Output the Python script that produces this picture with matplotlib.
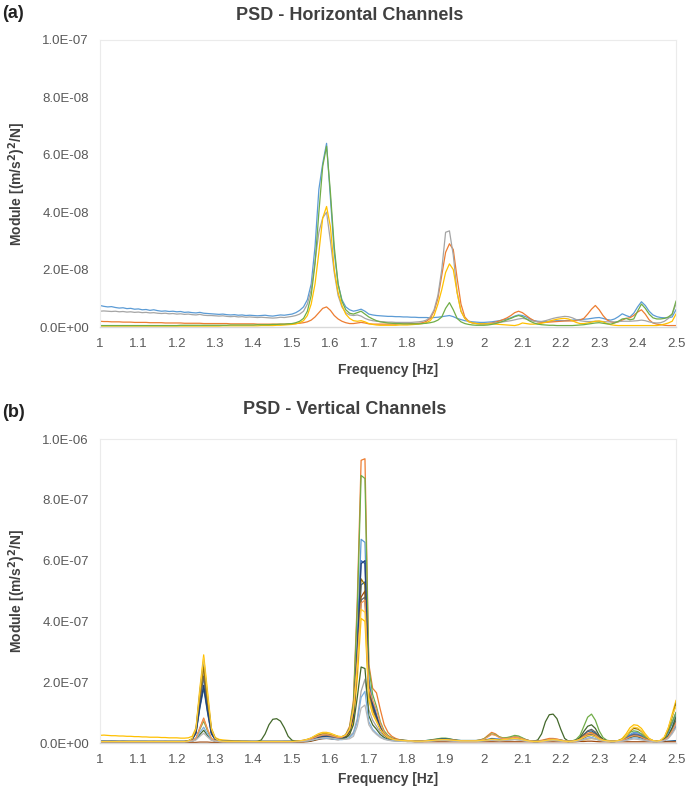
import numpy as np
import matplotlib
matplotlib.use("Agg")
import matplotlib.pyplot as plt
from matplotlib.ticker import FuncFormatter

plt.rcParams['font.family'] = ['Liberation Sans', 'DejaVu Sans']

# Frequency grid of the PSD (Hz), 0.01 Hz bins from 1.00 to 2.50
FREQ = np.round(np.arange(100, 251) / 100.0, 2)

X_TICKS = [1.0, 1.1, 1.2, 1.3, 1.4, 1.5, 1.6, 1.7, 1.8, 1.9, 2.0, 2.1, 2.2, 2.3, 2.4, 2.5]
X_TICK_LABELS = ['1', '1.1', '1.2', '1.3', '1.4', '1.5', '1.6', '1.7', '1.8', '1.9',
                 '2', '2.1', '2.2', '2.3', '2.4', '2.5']

# ---------------- (a) Horizontal channels, values in 1e-10 (m/s2)^2/N ----------------
H_SCALE = 1e-10
H_BLUE = [75,72,70,71,68,66,67,64,65,62,
          63,60,61,58,60,57,55,56,54,55,
          53,54,51,52,50,49,51,48,47,46,
          45,44,45,43,42,43,41,42,40,41,
          40,39,40,41,39,38,40,42,41,43,
          45,50,58,70,95,150,280,480,570,640,
          450,260,150,95,70,60,55,58,62,55,
          45,42,40,39,38,37,37,36,36,35,
          35,34,34,33,33,33,32,33,34,36,
          38,40,36,30,26,22,20,18,17,16,
          16,17,18,20,22,25,28,32,38,42,
          40,35,28,22,20,19,19,20,21,22,
          22,22,23,24,25,26,27,28,30,32,
          33,30,26,24,28,36,46,40,35,48,
          70,88,75,55,42,36,33,32,32,35,
          60]
H_ORANGE = [20,19,19,18,18,18,17,17,17,16,
            16,16,16,15,15,15,15,14,14,14,
            14,14,13,13,13,13,13,12,12,12,
            12,12,12,12,11,11,11,11,11,11,
            11,10,10,10,10,10,10,10,10,11,
            11,12,13,15,18,24,35,50,65,70,
            58,40,28,20,15,12,12,14,16,14,
            11,10,10,10,10,10,10,10,11,11,
            11,12,12,13,15,20,30,55,100,180,
            260,290,270,170,80,35,20,14,12,11,
            11,12,14,17,21,26,32,40,50,55,
            50,40,30,22,18,16,16,17,18,19,
            20,21,21,21,22,24,30,45,62,75,
            60,40,25,18,15,18,24,30,32,40,
            52,60,45,25,14,10,8,6,5,5,
            5]
H_GRAY = [55,56,55,54,55,53,54,52,53,51,
          52,50,51,49,50,48,47,48,46,47,
          45,46,44,45,43,42,44,41,40,40,
          39,38,39,37,36,37,35,36,34,35,
          34,33,34,33,32,31,32,34,33,35,
          37,40,45,55,80,130,230,330,380,400,
          300,190,110,70,50,42,40,42,38,30,
          25,22,20,19,18,17,17,16,16,16,
          16,16,17,18,20,24,35,60,110,200,
          330,335,250,120,55,30,20,15,12,11,
          11,12,13,14,16,18,20,22,25,28,
          30,28,24,20,18,19,22,26,30,33,
          35,37,36,32,26,22,20,19,19,20,
          20,19,18,18,18,19,20,20,20,21,
          22,24,22,18,15,14,15,20,30,45,
          80]
H_YELLOW = [3,3,3,3,3,3,3,3,3,3,
            3,3,3,3,3,3,3,3,3,3,
            3,3,3,3,3,3,3,3,3,3,
            3,3,4,4,4,4,4,4,4,4,
            4,4,5,5,5,5,6,6,7,8,
            9,11,15,22,40,80,150,260,380,420,
            350,200,120,75,45,30,22,20,22,18,
            12,9,7,6,6,6,6,6,7,7,
            7,8,9,10,12,15,22,40,80,130,
            190,220,200,120,55,30,18,14,12,11,
            11,11,11,10,9,8,7,6,5,8,
            14,12,10,10,11,13,16,20,24,27,
            29,30,28,22,16,12,12,14,17,20,
            21,18,12,8,6,5,5,5,5,5,
            5,5,5,5,5,5,7,10,14,20,
            45]
H_GREEN = [5,5,5,5,5,5,5,5,5,5,
           5,5,5,5,5,5,5,5,5,5,
           5,6,6,6,6,6,6,6,6,6,
           6,6,6,6,7,7,7,7,7,7,
           7,8,8,8,8,9,9,10,10,11,
           12,15,20,30,55,110,220,400,560,630,
           470,280,150,90,60,48,45,50,55,45,
           35,28,22,18,16,14,13,12,12,11,
           11,11,11,11,12,13,15,18,24,35,
           65,85,60,30,18,12,9,7,6,6,
           6,7,9,12,16,20,25,30,36,40,
           36,28,20,14,10,8,7,6,6,5,
           5,5,5,5,6,7,8,10,12,14,
           15,13,11,10,14,20,28,30,25,28,
           55,80,65,45,32,28,28,30,35,45,
           90]
H_SERIES = [H_BLUE, H_ORANGE, H_GRAY, H_YELLOW, H_GREEN]
H_COLORS = ['#5B9BD5', '#ED7D31', '#A5A5A5', '#FFC000', '#70AD47']

# ---------------- (b) Vertical channels, values in 1e-9 (m/s2)^2/N ----------------
V_SCALE = 1e-9
V01 = [6,6,5,6,5,5,6,5,5,5, 5,5,5,4,5,4,4,5,4,4, 4,4,4,6,12,35,130,215,120,35,
       12,7,5,5,4,4,4,4,4,4, 4,4,4,4,4,4,4,4,5,5, 5,5,5,6,7,10,15,20,24,25,
       23,20,18,20,26,45,105,340,670,660, 210,140,95,55,35,22,16,12,10,9,
       8,7,7,7,7,8,9,10,11,12, 12,11,10,9,8,8,8,8,8,9, 10,12,15,14,13,14,16,18,20,19,
       15,10,7,6,6,7,9,11,12,11, 9,7,6,6,8,12,20,27,30,25, 16,10,7,6,6,7,10,18,28,35,
       34,28,18,10,7,6,7,12,25,50, 90]
V02 = [3,3,3,3,3,3,3,3,3,3, 3,3,3,3,3,3,3,3,3,3, 3,3,3,4,6,15,50,82,45,14,
       6,4,3,3,3,3,3,3,3,3, 3,3,3,3,3,3,3,3,3,3, 3,4,4,5,6,8,12,16,19,20,
       19,16,14,18,28,55,140,470,930,935, 260,180,165,110,60,35,22,15,11,9,
       8,7,7,6,6,7,8,9,10,11, 11,10,9,8,7,7,7,7,8,10, 14,25,35,30,20,16,15,17,20,19,
       15,10,7,6,7,9,12,15,15,13, 10,7,6,6,8,14,24,32,35,28, 18,10,7,6,6,7,9,14,20,25,
       24,20,14,9,7,6,7,10,20,40, 70]
V03 = [5,5,5,5,5,5,5,5,4,4, 4,4,4,4,4,4,4,4,4,4, 4,4,4,6,13,40,140,230,130,38,
       13,7,5,4,4,4,4,4,4,4, 4,4,4,4,4,4,4,4,4,4, 5,5,6,7,9,13,20,26,30,30,
       28,24,20,18,18,22,35,80,170,210, 110,75,55,35,24,17,13,10,9,8,
       7,7,6,6,6,7,8,9,10,11, 11,10,9,8,7,7,7,7,7,8, 9,11,13,12,11,12,13,15,16,15,
       12,9,7,6,6,7,8,10,11,10, 8,7,6,6,7,10,16,22,25,21, 14,9,7,6,6,7,9,15,24,30,
       29,23,15,9,7,6,7,10,20,35, 60]
V04 = [25,26,25,24,24,23,23,22,22,21, 21,20,20,19,19,19,18,18,17,17, 17,16,16,17,22,50,180,290,170,50,
       18,12,10,9,8,7,7,6,6,5, 4,4,4,4,4,4,4,4,4,4, 5,5,6,8,11,16,24,31,35,35,
       32,27,22,20,22,30,70,210,410,400, 140,95,70,45,28,18,13,10,8,7,
       6,6,5,5,5,5,6,7,8,9, 9,8,7,6,5,5,5,5,5,6, 7,9,12,11,9,9,10,11,12,11,
       9,7,5,4,4,5,6,7,8,7, 6,5,4,4,5,7,10,13,15,13, 10,7,5,4,5,8,15,30,50,60,
       58,48,30,15,8,6,8,20,50,95, 140]
V05 = [6,6,6,6,6,5,5,5,5,5, 5,5,5,5,5,5,5,5,5,5, 5,5,5,7,14,45,165,270,150,45,
       15,8,6,5,5,5,5,5,5,5, 5,5,5,5,5,5,5,5,5,5, 5,5,6,7,9,12,17,21,23,23,
       21,18,16,18,25,45,100,310,600,590, 190,130,90,52,32,20,14,11,9,8,
       7,7,7,7,7,8,9,11,13,14, 14,13,11,9,8,8,8,8,8,8, 9,11,13,12,11,12,14,16,18,17,
       13,9,7,6,6,7,9,11,12,11, 9,7,6,6,8,11,17,23,25,21, 14,9,7,6,6,7,10,17,25,30,
       29,24,16,10,7,6,8,14,35,65, 100]
V06 = [4,4,4,4,4,4,4,4,4,4, 4,4,4,4,4,4,4,4,4,4, 4,4,4,5,7,15,45,72,40,14,
       6,5,4,4,4,4,4,4,4,4, 4,4,4,4,4,4,4,4,4,4, 4,5,5,6,8,11,16,21,24,25,
       23,20,17,19,27,50,130,440,880,870, 250,160,120,70,40,25,17,12,10,9,
       8,7,7,7,7,8,10,12,14,16, 16,14,11,9,8,8,8,8,8,10, 14,22,30,27,20,17,18,21,25,23,
       17,11,7,6,6,7,9,11,12,11, 9,7,6,7,12,25,55,85,95,75, 40,18,9,7,7,8,12,22,35,40,
       38,30,18,10,7,6,8,15,40,70, 100]
V07 = [5,5,5,5,5,5,5,5,5,5, 5,5,5,5,5,5,5,5,5,5, 5,5,5,6,11,32,115,180,100,30,
       11,7,5,5,5,5,5,5,5,5, 5,5,5,5,5,5,5,5,5,5, 5,5,6,7,9,12,16,19,21,21,
       19,17,15,17,23,40,90,270,520,530, 170,115,80,46,28,18,13,10,9,8,
       7,7,6,6,6,7,8,9,10,10, 10,9,8,7,7,7,7,7,7,8, 9,10,12,11,10,11,12,14,15,14,
       11,8,6,5,5,6,8,10,11,10, 8,6,5,6,9,16,28,38,40,32, 18,10,7,5,5,6,8,13,20,25,
       24,19,12,8,6,5,5,5,6,7, 8]
V08 = [2,2,2,2,2,2,2,2,2,2, 2,2,2,2,2,2,2,2,2,2, 2,2,2,2,2,2,3,3,3,2,
       2,2,2,2,2,2,2,2,2,2, 2,2,2,2,2,2,2,2,2,2, 2,2,3,3,4,6,9,12,14,15,
       14,12,11,13,20,38,85,250,480,500, 160,110,80,45,27,17,12,9,7,6,
       5,5,4,4,4,4,4,4,4,4, 4,4,4,4,4,4,4,4,4,4, 4,4,4,4,4,4,4,4,4,4,
       4,4,4,4,4,4,4,4,4,4, 4,4,4,4,4,5,5,6,6,5, 4,4,4,4,4,4,4,4,4,4,
       4,4,4,4,4,4,4,4,4,4, 4]
V09 = [5,5,5,5,5,5,5,5,5,5, 5,5,5,5,5,5,5,5,5,5, 5,5,5,7,13,38,135,220,122,36,
       13,7,5,5,5,5,5,5,5,5, 5,5,5,5,5,5,5,5,5,5, 5,5,6,7,9,12,17,22,25,25,
       23,20,17,19,25,45,100,260,470,480, 160,110,80,46,28,18,13,10,9,8,
       7,7,6,6,6,7,8,9,10,11, 11,10,9,8,7,7,7,7,7,8, 9,10,12,11,10,11,13,15,16,15,
       12,9,7,6,6,7,8,10,11,10, 8,6,5,6,9,15,28,40,45,36, 20,11,7,6,6,7,9,14,22,27,
       26,21,14,9,7,6,7,10,22,45, 75]
V10 = [5,5,5,5,5,5,5,5,5,5, 5,5,5,5,5,5,5,5,5,5, 5,5,5,7,14,42,155,250,140,42,
       14,8,6,5,5,5,5,5,5,5, 5,5,5,5,5,5,5,5,5,5, 5,6,7,9,12,16,22,28,31,31,
       29,25,21,21,26,45,110,290,540,520, 175,120,85,50,30,19,14,11,9,8,
       7,7,6,6,6,7,8,9,10,11, 11,10,9,8,7,7,7,7,7,8, 9,10,12,11,10,11,12,14,15,14,
       11,8,6,5,5,6,8,10,11,10, 8,6,5,6,8,13,22,30,33,27, 16,10,7,6,6,8,12,22,38,48,
       46,38,24,13,8,6,8,18,45,85, 130]
V11 = [5,5,5,5,5,5,5,5,5,5, 5,5,5,5,5,5,5,5,5,5, 5,5,5,6,12,34,120,190,105,32,
       11,7,5,5,5,5,5,5,5,5, 5,5,5,5,5,5,5,5,5,5, 5,5,6,7,8,11,15,18,20,20,
       18,16,14,16,22,40,95,300,590,600, 190,125,88,50,30,19,14,11,9,8,
       7,7,6,6,6,7,8,10,12,13, 13,12,10,8,7,7,7,7,7,8, 9,10,12,11,10,11,12,14,15,14,
       11,8,6,5,5,6,8,10,11,10, 8,6,5,6,8,12,18,25,28,23, 14,9,6,5,5,6,8,12,18,22,
       21,17,11,7,5,5,6,9,18,35, 55]
V12 = [4,4,4,4,4,4,4,4,4,4, 4,4,4,4,4,4,4,4,4,4, 4,4,4,5,6,12,28,42,25,10,
       6,5,4,4,4,4,4,4,4,4, 4,5,10,30,60,78,80,72,50,22, 9,6,5,5,6,8,11,14,16,16,
       15,13,12,13,17,28,60,150,250,245, 90,60,45,28,18,12,9,7,6,6,
       5,5,5,5,5,6,7,8,9,10, 10,9,8,7,6,6,6,6,6,7, 8,10,12,11,10,11,12,14,15,14,
       11,8,6,6,10,30,70,93,95,80, 45,15,6,5,8,18,38,55,60,48, 25,12,7,5,5,6,8,12,18,22,
       21,17,11,7,5,5,7,12,25,50, 85]
V13 = [5,5,5,5,5,5,5,5,5,5, 5,5,5,5,5,5,5,5,5,5, 5,5,5,5,7,14,35,52,30,12,
       7,5,5,5,5,5,5,5,5,5, 5,5,5,5,5,5,5,5,5,5, 5,5,5,6,7,9,12,14,15,15,
       14,12,11,11,13,18,30,70,150,170, 70,45,32,20,14,10,8,7,6,6,
       6,6,5,5,5,6,7,8,9,9, 9,8,7,6,6,6,6,6,6,7, 8,9,10,9,8,9,10,11,12,11,
       9,7,6,5,5,6,7,8,9,8, 7,6,5,5,6,8,12,16,18,15, 10,7,6,5,5,6,7,10,14,17,
       16,13,9,7,5,5,6,9,18,35, 60]
V14 = [4,4,4,4,4,4,4,4,4,4, 4,4,4,4,4,4,4,4,4,4, 4,4,4,5,8,16,48,78,44,15,
       7,5,4,4,4,4,4,4,4,4, 4,4,4,4,4,4,4,4,4,4, 4,5,6,7,9,13,18,23,26,27,
       25,21,18,19,25,45,110,270,460,470, 180,140,110,65,35,22,15,11,9,8,
       7,7,6,6,6,7,8,9,10,11, 11,10,9,8,7,7,7,7,7,9, 12,20,28,25,18,15,15,17,19,18,
       14,10,7,6,6,7,9,12,13,12, 9,7,6,6,8,13,22,30,32,26, 16,10,7,6,6,7,9,14,20,24,
       23,19,13,9,7,6,7,10,20,40, 65]
V15 = [4,4,4,4,4,4,4,4,4,4, 4,4,4,4,4,4,4,4,4,4, 4,4,4,5,6,10,22,32,20,9,
       6,5,4,4,4,4,4,4,4,4, 4,4,4,4,4,4,4,4,4,4, 4,4,5,6,7,9,12,15,17,18,
       17,15,13,12,12,14,22,55,115,125, 60,40,28,18,12,9,7,6,6,5,
       5,5,5,5,5,5,6,7,8,8, 8,7,6,6,5,5,5,5,5,6, 7,8,9,8,7,8,9,10,11,10,
       8,6,5,5,5,5,6,7,8,7, 6,5,5,5,6,8,11,14,15,13, 9,7,5,5,5,5,6,8,11,13,
       12,10,8,6,5,5,5,8,15,30, 50]
V16 = [5,5,5,5,5,5,5,5,5,5, 5,5,5,5,5,5,5,5,5,5, 5,5,5,7,15,47,170,280,160,47,
       15,8,6,5,5,5,5,5,5,5, 5,5,5,5,5,5,5,5,5,5, 5,6,7,9,12,17,24,30,33,33,
       31,26,22,21,26,45,110,250,440,430, 150,100,72,45,28,18,13,10,9,8,
       7,7,6,6,6,7,8,9,10,11, 11,10,9,8,7,7,7,7,7,8, 9,10,12,11,10,11,12,14,15,14,
       11,8,6,5,5,6,8,10,11,10, 8,6,5,6,8,12,18,24,26,21, 13,9,7,6,6,8,12,22,40,52,
       50,40,26,14,8,6,9,20,50,90, 120]
V_SERIES = [V01, V02, V03, V04, V05, V06, V07, V08, V09, V10, V11, V12, V13, V14, V15, V16]
V_COLORS = ['#5B9BD5', '#ED7D31', '#A5A5A5', '#FFC000', '#4472C4', '#70AD47',
            '#255E91', '#9E480E', '#636363', '#997300', '#264478', '#43682B',
            '#7CAFDD', '#F1975A', '#B7B7B7', '#FFCD33']

TICK_COLOR = '#595959'
LABEL_COLOR = '#404040'


def sci(v, pos):
    return f"{v:.1E}"


def style_axes(ax, ymax, xlabelpad):
    ax.set_xlim(1.0, 2.5)
    ax.set_ylim(0, ymax)
    ax.set_xticks(X_TICKS)
    ax.set_xticklabels(X_TICK_LABELS)
    ax.set_yticks(np.linspace(0, ymax, 6))
    ax.yaxis.set_major_formatter(FuncFormatter(sci))
    ax.tick_params(axis='both', length=0, labelsize=9.5, labelcolor=TICK_COLOR)
    ax.tick_params(axis='y', pad=8)
    ax.tick_params(axis='x', pad=8)
    for s in ['top', 'right', 'left']:
        ax.spines[s].set_color('#EBEBEB')
        ax.spines[s].set_linewidth(0.8)
    ax.spines['bottom'].set_color('#D9D9D9')
    ax.spines['bottom'].set_linewidth(1.0)
    ax.set_xlabel('Frequency [Hz]', fontsize=10, fontweight='bold', color=LABEL_COLOR,
                  labelpad=xlabelpad)
    ax.set_ylabel('Module [(m/s$^{\\mathbf{2}}$)$^{\\mathbf{2}}$/N]', fontsize=10,
                  fontweight='bold', color=LABEL_COLOR)


fig = plt.figure(figsize=(6.85, 7.94), dpi=100)
W, H = 685.0, 794.0

ax1 = fig.add_axes([100 / W, 1 - 327 / H, 576 / W, 287 / H])
for vals, c in zip(H_SERIES, H_COLORS):
    ax1.plot(FREQ, np.array(vals) * H_SCALE, color=c, lw=0.9)
style_axes(ax1, 1e-7, 9)
ax1.yaxis.set_label_coords(-0.125, 0.5)

ax2 = fig.add_axes([100 / W, 1 - 743 / H, 576 / W, 304 / H])
for vals, c in zip(V_SERIES, V_COLORS):
    ax2.plot(FREQ, np.array(vals) * V_SCALE, color=c, lw=0.9)
style_axes(ax2, 1e-6, 4)
ax2.yaxis.set_label_coords(-0.125, 0.5)

title_font = ['Liberation Sans Narrow', 'Liberation Sans', 'DejaVu Sans']
fig.text(350 / W, 1 - 15 / H, 'PSD - Horizontal Channels', ha='center', va='center',
         fontsize=13, fontweight='bold', color='#404040', family=title_font)
fig.text(345 / W, 1 - 410 / H, 'PSD - Vertical Channels', ha='center', va='center',
         fontsize=13, fontweight='bold', color='#404040', family=title_font)
fig.text(2 / W, 1 - 14 / H, '(a)', ha='left', va='center', fontsize=13, fontweight='bold',
         color='#222222', family=title_font)
fig.text(2 / W, 1 - 412 / H, '(b)', ha='left', va='center', fontsize=13, fontweight='bold',
         color='#222222', family=title_font)

fig.savefig('out.png', dpi=100)
